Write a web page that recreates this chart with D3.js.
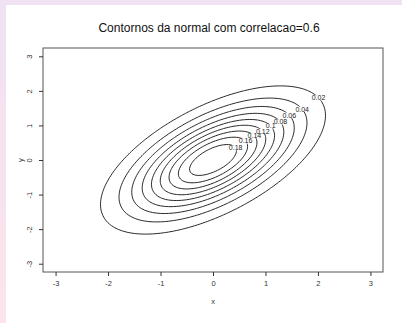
<!DOCTYPE html>
<html>
<head>
<meta charset="utf-8">
<script src="https://cdn.jsdelivr.net/npm/d3@7/dist/d3.min.js"></script>
<style>
  html, body { margin: 0; padding: 0; background: #fff; }
  svg { display: block; font-family: "Liberation Sans", Arial, sans-serif; }
</style>
</head>
<body>
<svg id="chart" width="402" height="323"></svg>
<script>
// Bivariate standard normal with correlation rho, evaluated on a square grid
const rho = 0.6;
const gridMin = -3, gridMax = 3, gridStep = 0.05;
const levels = [0.02, 0.04, 0.06, 0.08, 0.10, 0.12, 0.14, 0.16, 0.18];
const levelLabels = ["0.02", "0.04", "0.06", "0.08", "0.1", "0.12", "0.14", "0.16", "0.18"];
const xTicks = [-3, -2, -1, 0, 1, 2, 3];
const yTicks = [-3, -2, -1, 0, 1, 2, 3];
const titleText = "Contornos da normal com correlacao=0.6";

const W = 402, H = 323;
const plot = { left: 43, right: 383, top: 48, bottom: 272 };

const svg = d3.select("#chart");

// page frame tint
const defs = svg.append("defs");
const grad = defs.append("linearGradient").attr("id", "edgeTint")
  .attr("x1", 0).attr("y1", 0).attr("x2", 0).attr("y2", 1);
grad.append("stop").attr("offset", "0%").attr("stop-color", "#efe2f2");
grad.append("stop").attr("offset", "100%").attr("stop-color", "#fce4eb");
svg.append("rect").attr("x", 0).attr("y", 0).attr("width", W).attr("height", H).attr("fill", "#fff");
svg.append("rect").attr("x", 0).attr("y", 0).attr("width", 6).attr("height", H).attr("fill", "url(#edgeTint)");
svg.append("rect").attr("x", 0).attr("y", 0).attr("width", W).attr("height", 5).attr("fill", "#f0e2f2");

// scales: 4% padding around [-3, 3]
const pad = (gridMax - gridMin) * 0.04;
const x = d3.scaleLinear().domain([gridMin - pad, gridMax + pad]).range([plot.left, plot.right]);
const y = d3.scaleLinear().domain([gridMin - pad, gridMax + pad]).range([plot.bottom, plot.top]);

// density grid
const gx = d3.range(gridMin, gridMax + gridStep / 2, gridStep);
const n = gx.length;
const norm = 1 / (2 * Math.PI * Math.sqrt(1 - rho * rho));
function dens(a, b) {
  const q = (a * a - 2 * rho * a * b + b * b) / (1 - rho * rho);
  return norm * Math.exp(-q / 2);
}
const values = new Array(n * n);
for (let j = 0; j < n; j++)
  for (let i = 0; i < n; i++)
    values[j * n + i] = dens(gx[i], gx[j]);

const contours = d3.contours().size([n, n]).thresholds(levels)(values);

// grid coordinates -> pixel coordinates (sample i sits at i + 0.5)
const toX = c => x(gridMin + (c - 0.5) * gridStep);
const toY = c => y(gridMin + (c - 0.5) * gridStep);
const proj = d3.geoTransform({
  point(px, py) { this.stream.point(toX(px), toY(py)); }
});
const path = d3.geoPath(proj);

// label placement: point of each contour along a fixed screen direction from the centre
const cx = x(0), cy = y(0);
const labelAngle = 30 * Math.PI / 180;
const labelPts = contours.map(c => {
  let best = null, bestD = Infinity;
  c.coordinates.forEach(poly => poly.forEach(ring => ring.forEach(p => {
    const sx = toX(p[0]), sy = toY(p[1]);
    const ang = Math.atan2(cy - sy, sx - cx);
    const d = Math.abs(ang - labelAngle);
    if (d < bestD) { bestD = d; best = [sx, sy]; }
  })));
  return best;
});

// labels
const labelG = svg.append("g");
const labels = labelG.selectAll("text").data(contours).join("text")
  .attr("x", (d, i) => labelPts[i][0])
  .attr("y", (d, i) => labelPts[i][1])
  .attr("text-anchor", "middle")
  .attr("dominant-baseline", "central")
  .attr("font-size", 7)
  .attr("fill", "#222")
  .text((d, i) => levelLabels[i]);

// mask that opens gaps in the contour lines under the labels
const mask = defs.append("mask").attr("id", "labelGaps").attr("maskUnits", "userSpaceOnUse")
  .attr("x", 0).attr("y", 0).attr("width", W).attr("height", H);
mask.append("rect").attr("x", 0).attr("y", 0).attr("width", W).attr("height", H).attr("fill", "#fff");
labels.each(function () {
  const b = this.getBBox();
  mask.append("rect").attr("x", b.x - 0.5).attr("y", b.y + 1).attr("width", b.width + 1).attr("height", b.height - 2).attr("fill", "#000");
});

svg.insert("g", () => labelG.node())
  .attr("mask", "url(#labelGaps)")
  .selectAll("path").data(contours).join("path")
  .attr("d", path)
  .attr("fill", "none")
  .attr("stroke", "#111")
  .attr("stroke-width", 0.9);

// plot box
svg.append("rect")
  .attr("x", plot.left).attr("y", plot.top)
  .attr("width", plot.right - plot.left).attr("height", plot.bottom - plot.top)
  .attr("fill", "none").attr("stroke", "#555").attr("stroke-width", 1);

// axes (plain hyphen for negative numbers)
const fmt = d => String(d);
const xAxis = d3.axisBottom(x).tickValues(xTicks).tickSize(4).tickPadding(5).tickFormat(fmt);
const gX = svg.append("g").attr("transform", `translate(0,${plot.bottom})`).call(xAxis);
gX.select(".domain").remove();
gX.selectAll("line").attr("stroke", "#333");
gX.selectAll("text").attr("font-size", 7.5).attr("fill", "#333").attr("font-family", "Liberation Sans, Arial, sans-serif");

const yAxis = d3.axisLeft(y).tickValues(yTicks).tickSize(4).tickFormat(fmt);
const gY = svg.append("g").attr("transform", `translate(${plot.left},0)`).call(yAxis);
gY.select(".domain").remove();
gY.selectAll("line").attr("stroke", "#333");
gY.selectAll("text")
  .attr("font-size", 7.5).attr("fill", "#333").attr("font-family", "Liberation Sans, Arial, sans-serif")
  .attr("x", null).attr("dy", null)
  .attr("text-anchor", "middle")
  .attr("transform", "translate(-11,0) rotate(-90)");

// titles
svg.append("text").attr("x", 209).attr("y", 32)
  .attr("text-anchor", "middle").attr("font-size", 12).attr("fill", "#111").text(titleText);
svg.append("text").attr("x", (plot.left + plot.right) / 2).attr("y", 304)
  .attr("text-anchor", "middle").attr("font-size", 7.5).attr("fill", "#333").text("x");
svg.append("text").attr("transform", `translate(23,${(plot.top + plot.bottom) / 2}) rotate(-90)`)
  .attr("text-anchor", "middle").attr("font-size", 7.5).attr("fill", "#333").text("y");
</script>
</body>
</html>
